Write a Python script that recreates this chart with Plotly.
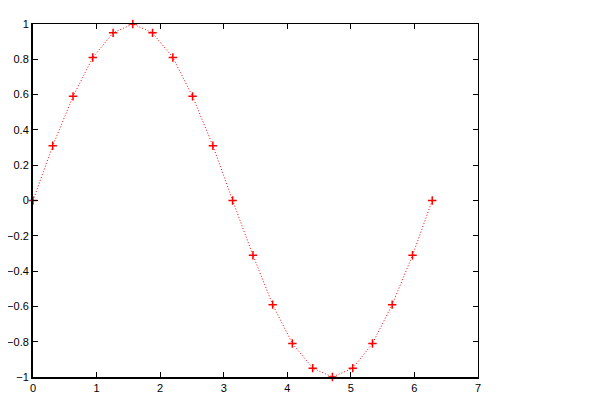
import plotly.graph_objects as go

x_vals = [0, 0.31, 0.63, 0.94, 1.26, 1.57, 1.88, 2.20, 2.51, 2.83, 3.14,
          3.46, 3.77, 4.08, 4.40, 4.71, 5.03, 5.34, 5.65, 5.97, 6.28]
y_vals = [0, 0.31, 0.59, 0.81, 0.95, 1.0, 0.95, 0.81, 0.59, 0.31, 0,
          -0.31, -0.59, -0.81, -0.95, -1.0, -0.95, -0.81, -0.59, -0.31, 0]
x_ticks = [0, 1, 2, 3, 4, 5, 6, 7]
y_ticks = [-1, -0.8, -0.6, -0.4, -0.2, 0, 0.2, 0.4, 0.6, 0.8, 1]

fig = go.Figure()
fig.add_trace(go.Scatter(
    x=x_vals, y=y_vals, mode="lines+markers",
    line=dict(color="red", width=1, dash="1px,2px"),
    marker=dict(symbol="cross-thin", size=6, line=dict(color="red", width=1.5)),
    cliponaxis=False, showlegend=False,
))
# invisible trace to anchor the mirrored top/right axes
fig.add_trace(go.Scatter(x=[0], y=[0], xaxis="x2", yaxis="y2", mode="markers",
                         marker=dict(opacity=0), showlegend=False, hoverinfo="skip"))

font = dict(family="Liberation Sans, Arial, sans-serif", size=11, color="black")
common = dict(showgrid=False, zeroline=False, ticks="inside", ticklen=5,
              tickcolor="black", automargin=False)
fig.update_layout(
    width=600, height=409,
    margin=dict(l=25, r=130, t=16, b=40),
    paper_bgcolor="white", plot_bgcolor="white",
    xaxis=dict(range=[0, 7], tickvals=x_ticks, showline=True, linewidth=2,
               linecolor="black", tickfont=font, **common),
    yaxis=dict(range=[-1, 1], tickvals=y_ticks, showline=True, linewidth=2,
               linecolor="black", tickfont=font, **common),
    xaxis2=dict(range=[0, 7], tickvals=x_ticks, overlaying="x", side="top",
                showline=True, linewidth=1, linecolor="black",
                showticklabels=False, **common),
    yaxis2=dict(range=[-1, 1], tickvals=y_ticks, overlaying="y", side="right",
                showline=True, linewidth=1, linecolor="black",
                showticklabels=False, **common),
)
fig.write_html("out.html")
